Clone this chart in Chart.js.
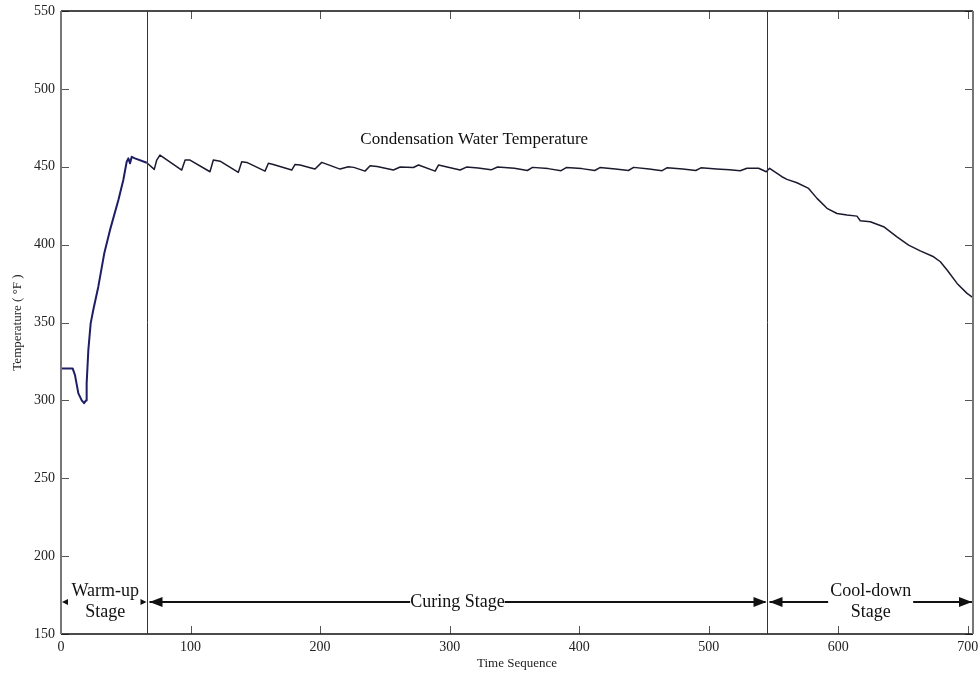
<!DOCTYPE html>
<html lang="en">
  <head>
    <meta charset="UTF-8">
    <script src="https://cdn.jsdelivr.net/npm/chart.js"></script>
    <style>
      body { margin: 0; background: #fff; }
      #tempChart { display: block; }
    </style>
  </head>
  <body>
    <canvas id="tempChart" width="979" height="673"></canvas>

    <script>
      // time sequence and condensation water temperature (°F)
      const timeSeq = [
        0, 9, 10.8, 13.4, 16, 17.8, 19.3, 19.8, 21.1, 22.9, 24.9, 28.8, 33.4, 37.8, 44.3, 48.1,
        50.7, 52, 53.3, 54.6, 57.1, 66.2, 72, 73.9, 76.4, 93.2, 95.8, 99.6, 115, 117.6,
        122.8, 136.9, 139.5, 143.4, 157.5, 160.1, 163.9, 178.1, 180.7, 184.6, 192.3, 196.1,
        201.3, 215.4, 221.9, 226, 234.7, 238.6, 244, 256.6, 261.8, 272, 276, 288.8, 291.4,
        308.1, 313, 322, 332, 337, 350, 360, 364, 376, 386, 390, 402, 412, 416, 428, 438,
        442, 454, 464, 468, 480, 490, 494, 506, 516, 524.3, 529.5, 538.5, 544.4, 547,
        556.5, 560.4, 568.1, 577.1, 583.6, 591.3, 599, 606.7, 614.4, 617, 624.7, 635,
        645.3, 654.3, 663.3, 673.6, 678.8, 684, 691.7, 699.4, 704
      ];
      const waterTemp = [
        320.5, 320.5, 316.2, 304.5, 300, 298.2, 300, 310.9, 332.3, 349.4, 358, 373, 394.4, 409.3, 428.6, 441.5,
        453.2, 455.4, 452.2, 456.4, 455.4, 452.6, 448.3, 454.3, 457.5, 447.9, 454.3, 454.3, 446.8, 454.3,
        453.6, 446.4, 453.2, 452.8, 447.2, 452.2, 451.5, 447.9, 451.5, 451.1, 449.4, 448.5,
        452.8, 448.5, 450, 449.6, 447.2, 450.6, 450.2, 447.9, 449.8, 449.5, 451.1, 447.2, 451.1,
        447.9, 449.8, 449.2, 448, 449.8, 449, 447.6, 449.6, 448.8, 447.5, 449.5, 448.8, 447.6, 449.5, 448.6, 447.6,
        449.6, 448.6, 447.5, 449.4, 448.6, 447.6, 449.3, 448.6, 448, 447.4, 449, 449, 446.8, 449,
        443.6, 441.9, 439.7, 436.1, 429.7, 423.3, 420, 419, 418.3, 415.3, 414.7, 411.5,
        405, 399.7, 396, 392.2, 389, 383.7, 375.1, 368.7, 366
      ];
      const xTicks = [0, 100, 200, 300, 400, 500, 600, 700];
      const yTicks = [150, 200, 250, 300, 350, 400, 450, 500, 550];
      // stage boundaries on the time axis
      const stageBounds = [66, 545];

      const serif = '"Liberation Serif", "Times New Roman", serif';

      // frame, inward ticks, stage dividers, arrows and labels
      const notesPlugin = {
        id: 'stageNotes',
        afterDatasetsDraw(chart) {
          const { ctx, chartArea: a, scales: { x, y } } = chart;
          ctx.save();

          // inward ticks on all four sides
          ctx.lineWidth = 1;
          ctx.strokeStyle = '#555';
          yTicks.forEach(v => {
            const py = Math.round(y.getPixelForValue(v)) + 0.5;
            ctx.beginPath();
            ctx.moveTo(a.left, py); ctx.lineTo(a.left + 8, py);
            ctx.moveTo(a.right, py); ctx.lineTo(a.right - 8, py);
            ctx.stroke();
          });
          xTicks.forEach(v => {
            const px = Math.round(x.getPixelForValue(v)) + 0.5;
            ctx.beginPath();
            ctx.moveTo(px, a.bottom); ctx.lineTo(px, a.bottom - 8);
            ctx.moveTo(px, a.top); ctx.lineTo(px, a.top + 8);
            ctx.stroke();
          });

          // frame
          ctx.lineWidth = 1.5;
          ctx.strokeStyle = '#111';
          ctx.beginPath();
          ctx.moveTo(a.left, a.top); ctx.lineTo(a.right, a.top);
          ctx.moveTo(a.left, a.bottom); ctx.lineTo(a.right, a.bottom);
          ctx.stroke();
          ctx.lineWidth = 2;
          ctx.strokeStyle = '#777';
          ctx.beginPath();
          ctx.moveTo(a.left, a.top); ctx.lineTo(a.left, a.bottom);
          ctx.moveTo(a.right, a.top); ctx.lineTo(a.right, a.bottom);
          ctx.stroke();

          // stage dividers
          ctx.lineWidth = 1;
          ctx.strokeStyle = '#333';
          const bx = stageBounds.map(v => Math.round(x.getPixelForValue(v)) + 0.5);
          bx.forEach(px => {
            ctx.beginPath();
            ctx.moveTo(px, a.top); ctx.lineTo(px, a.bottom);
            ctx.stroke();
          });

          // series caption
          ctx.fillStyle = '#111';
          ctx.font = '17px ' + serif;
          ctx.textAlign = 'center';
          ctx.textBaseline = 'middle';
          ctx.fillText('Condensation Water Temperature', x.getPixelForValue(319), y.getPixelForValue(467.5));

          // stage arrows
          const ay = y.getPixelForValue(170.6);
          const line1 = y.getPixelForValue(177.6);
          const line2 = y.getPixelForValue(163.7);
          ctx.font = '18px ' + serif;

          function head(px, dir, len, half) {
            ctx.beginPath();
            ctx.moveTo(px, ay);
            ctx.lineTo(px - dir * len, ay - half);
            ctx.lineTo(px - dir * len, ay + half);
            ctx.closePath();
            ctx.fill();
          }
          function seg(x0, x1) {
            ctx.beginPath();
            ctx.moveTo(x0, ay); ctx.lineTo(x1, ay);
            ctx.stroke();
          }
          ctx.strokeStyle = '#111';
          ctx.lineWidth = 2;

          // warm-up
          const wc = (a.left + bx[0]) / 2 + 1;
          ctx.fillText('Warm-up', wc, line1);
          ctx.fillText('Stage', wc, line2);
          head(a.left + 1, -1, 6, 3);
          head(bx[0] - 1, 1, 6, 3);

          // curing
          const cc = x.getPixelForValue(306);
          const cw = ctx.measureText('Curing Stage').width / 2;
          ctx.fillText('Curing Stage', cc, ay);
          seg(bx[0] + 2, cc - cw);
          seg(cc + cw, bx[1] - 2);
          head(bx[0] + 2, -1, 13, 5);
          head(bx[1] - 1, 1, 13, 5);

          // cool-down
          const dc = x.getPixelForValue(625);
          const dw = ctx.measureText('Cool-down').width / 2;
          ctx.fillText('Cool-down', dc, line1);
          ctx.fillText('Stage', dc, line2);
          seg(bx[1] + 2, dc - dw - 2);
          seg(dc + dw + 2, a.right - 1);
          head(bx[1] + 2, -1, 13, 5);
          head(a.right - 1, 1, 13, 5);

          ctx.restore();
        }
      };

      const ctx = document.getElementById('tempChart').getContext('2d');

      new Chart(ctx, {
        type: 'line',
        data: {
          datasets: [{
            data: timeSeq.map((t, i) => ({ x: t, y: waterTemp[i] })),
            borderWidth: 1.5,
            pointRadius: 0,
            tension: 0,
            fill: false,
            borderJoinStyle: 'round',
            segment: {
              borderColor: c => c.p0.parsed.x < stageBounds[0] ? '#1e1e66' : '#1a1a2e',
              borderWidth: c => c.p0.parsed.x < stageBounds[0] ? 2 : 1.5
            }
          }]
        },
        options: {
          responsive: false,
          animation: false,
          layout: { padding: { top: 11, right: 6, left: 0, bottom: 0 } },
          plugins: {
            legend: { display: false },
            tooltip: { enabled: false }
          },
          scales: {
            x: {
              type: 'linear',
              min: 0,
              max: 704,
              afterBuildTicks: s => { s.ticks = xTicks.map(v => ({ value: v })); },
              afterFit: s => { s.height = 39; s.paddingLeft = 0; s.paddingRight = 0; },
              grid: { display: false, drawTicks: false },
              border: { display: false },
              ticks: { color: '#222', padding: 5, font: { family: serif, size: 14 } },
              title: {
                display: true,
                text: 'Time Sequence',
                color: '#222',
                padding: { top: 0, bottom: 2 },
                font: { family: serif, size: 13 }
              }
            },
            y: {
              min: 150,
              max: 550,
              afterBuildTicks: s => { s.ticks = yTicks.map(v => ({ value: v })); },
              afterFit: s => { s.width = 61; s.paddingTop = 0; s.paddingBottom = 0; },
              grid: { display: false, drawTicks: false },
              border: { display: false },
              ticks: { color: '#222', padding: 6, font: { family: serif, size: 14 } },
              title: {
                display: true,
                text: 'Temperature ( °F )',
                color: '#222',
                padding: { top: 10, bottom: 0 },
                font: { family: serif, size: 13 }
              }
            }
          }
        },
        plugins: [notesPlugin]
      });
    </script>
  </body>
</html>
